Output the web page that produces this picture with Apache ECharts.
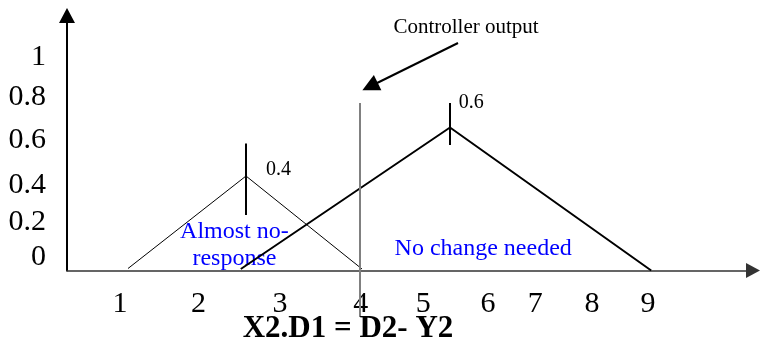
<!DOCTYPE html>
<html>
<head>
<meta charset="utf-8">
<script src="https://cdn.jsdelivr.net/npm/echarts@6/dist/echarts.min.js"></script>
<style>
  html, body { margin: 0; padding: 0; background: #fff; }
  #chart { width: 760px; height: 347px; }
</style>
</head>
<body>
<div id="chart"></div>
<script>
// x in drawing units (label "1" at 1, label "4" at 4), y in membership-ish units
const xTickPos = [1, 1.98, 3, 4.01, 4.79, 5.6, 6.19, 6.9, 7.6]
const xTickText = ['1', '2', '3', '4', '5', '6', '7', '8', '9']
const yTickPos = [0.0675, 0.2425, 0.4275, 0.6525, 0.8675, 1.0675]
const yTickText = ['0', '0.2', '0.4', '0.6', '0.8', '1']

// membership triangles
const almostNoResponse = [[1.1, 0.01], [2.575, 0.4725], [4.025, 0.0075]]
const noChangeNeeded = [[2.51, 0.0075], [5.125, 0.715], [7.64, 0]]

// markers at the peaks and the controller output line
const smallPeakMark = [[2.575, 0.635], [2.575, 0.2775]]
const bigPeakMark = [[5.125, 0.8375], [5.125, 0.6275]]
const controllerLine = [[4.0, 0.8375], [4.0, -0.2325]]
const controllerArrow = [[5.225, 1.1375], [4.125, 0.92]]

// text notes
const noteText = ['Almost no-\nresponse', 'No change needed', '0.4', '0.6', 'Controller output']
const noteX = [2.43, 5.54, 2.98, 5.39, 5.325]
const noteY = [0.125, 0.1075, 0.5025, 0.8375, 1.2175]

const serif = '"Liberation Serif", "Times New Roman", serif'

function nearestText (pos, text, v) {
  let best = 0
  for (let i = 1; i < pos.length; i++) {
    if (Math.abs(pos[i] - v) < Math.abs(pos[best] - v)) best = i
  }
  return text[best]
}

const myChart = echarts.init(document.getElementById('chart'))

const options = {
  animation: false,
  title: {
    text: 'X2.D1 = D2- Y2',
    left: 348,
    top: 313,
    textAlign: 'center',
    padding: 0,
    textStyle: {
      fontFamily: serif,
      fontSize: 31,
      fontWeight: 'bold',
      color: '#000'
    }
  },
  grid: {
    left: 67,
    right: 7,
    top: 15.5,
    bottom: 76.5,
    containLabel: false
  },
  xAxis: {
    type: 'value',
    min: 0.3375,
    max: 8.9125,
    splitLine: { show: false },
    axisTick: { show: false },
    axisLine: {
      show: true,
      onZero: true,
      symbol: ['none', 'triangle'],
      symbolSize: [15, 14],
      lineStyle: { color: '#333', width: 1.5 }
    },
    axisLabel: {
      customValues: xTickPos,
      margin: 19,
      fontFamily: serif,
      fontSize: 30,
      color: '#000',
      formatter: v => nearestText(xTickPos, xTickText, v)
    }
  },
  yAxis: {
    type: 'value',
    min: 0,
    max: 1.275,
    splitLine: { show: false },
    axisTick: { show: false },
    axisLine: {
      show: true,
      symbol: ['none', 'triangle'],
      symbolSize: [16, 15],
      lineStyle: { color: '#000', width: 2 }
    },
    axisLabel: {
      customValues: yTickPos,
      margin: 21,
      fontFamily: serif,
      fontSize: 30,
      color: '#000',
      formatter: v => nearestText(yTickPos, yTickText, v)
    }
  },
  series: [
    {
      type: 'line',
      data: almostNoResponse,
      symbol: 'none',
      lineStyle: { color: '#000', width: 1 }
    },
    {
      type: 'line',
      data: noChangeNeeded,
      symbol: 'none',
      lineStyle: { color: '#000', width: 2 }
    },
    {
      type: 'line',
      data: smallPeakMark,
      symbol: 'none',
      lineStyle: { color: '#000', width: 2 }
    },
    {
      type: 'line',
      data: bigPeakMark,
      symbol: 'none',
      lineStyle: { color: '#000', width: 2 }
    },
    {
      type: 'line',
      data: controllerLine,
      symbol: 'none',
      clip: false,
      lineStyle: { color: '#808080', width: 2 }
    },
    {
      type: 'lines',
      coordinateSystem: 'cartesian2d',
      symbol: ['none', 'triangle'],
      symbolSize: [14, 17],
      lineStyle: { color: '#000', width: 2, opacity: 1 },
      data: [{ coords: controllerArrow }]
    },
    {
      type: 'scatter',
      symbolSize: 1,
      itemStyle: { color: 'rgba(0,0,0,0)' },
      clip: false,
      silent: true,
      data: noteText.map((t, i) => ({ value: [noteX[i], noteY[i]], name: t })),
      label: {
        show: true,
        position: 'inside',
        formatter: p => p.name,
        fontFamily: serif,
        color: '#000',
        textBorderWidth: 0,
        opacity: 1,
        fontSize: 20,
        lineHeight: 27
      },
      labelLayout: { hideOverlap: false }
    }
  ]
}

// blue, larger text for the two set names
options.series[6].data[0].label = { color: '#0000ff', fontSize: 24 }
options.series[6].data[1].label = { color: '#0000ff', fontSize: 24 }
options.series[6].data[4].label = { fontSize: 21 }

myChart.setOption(options)
</script>
</body>
</html>
